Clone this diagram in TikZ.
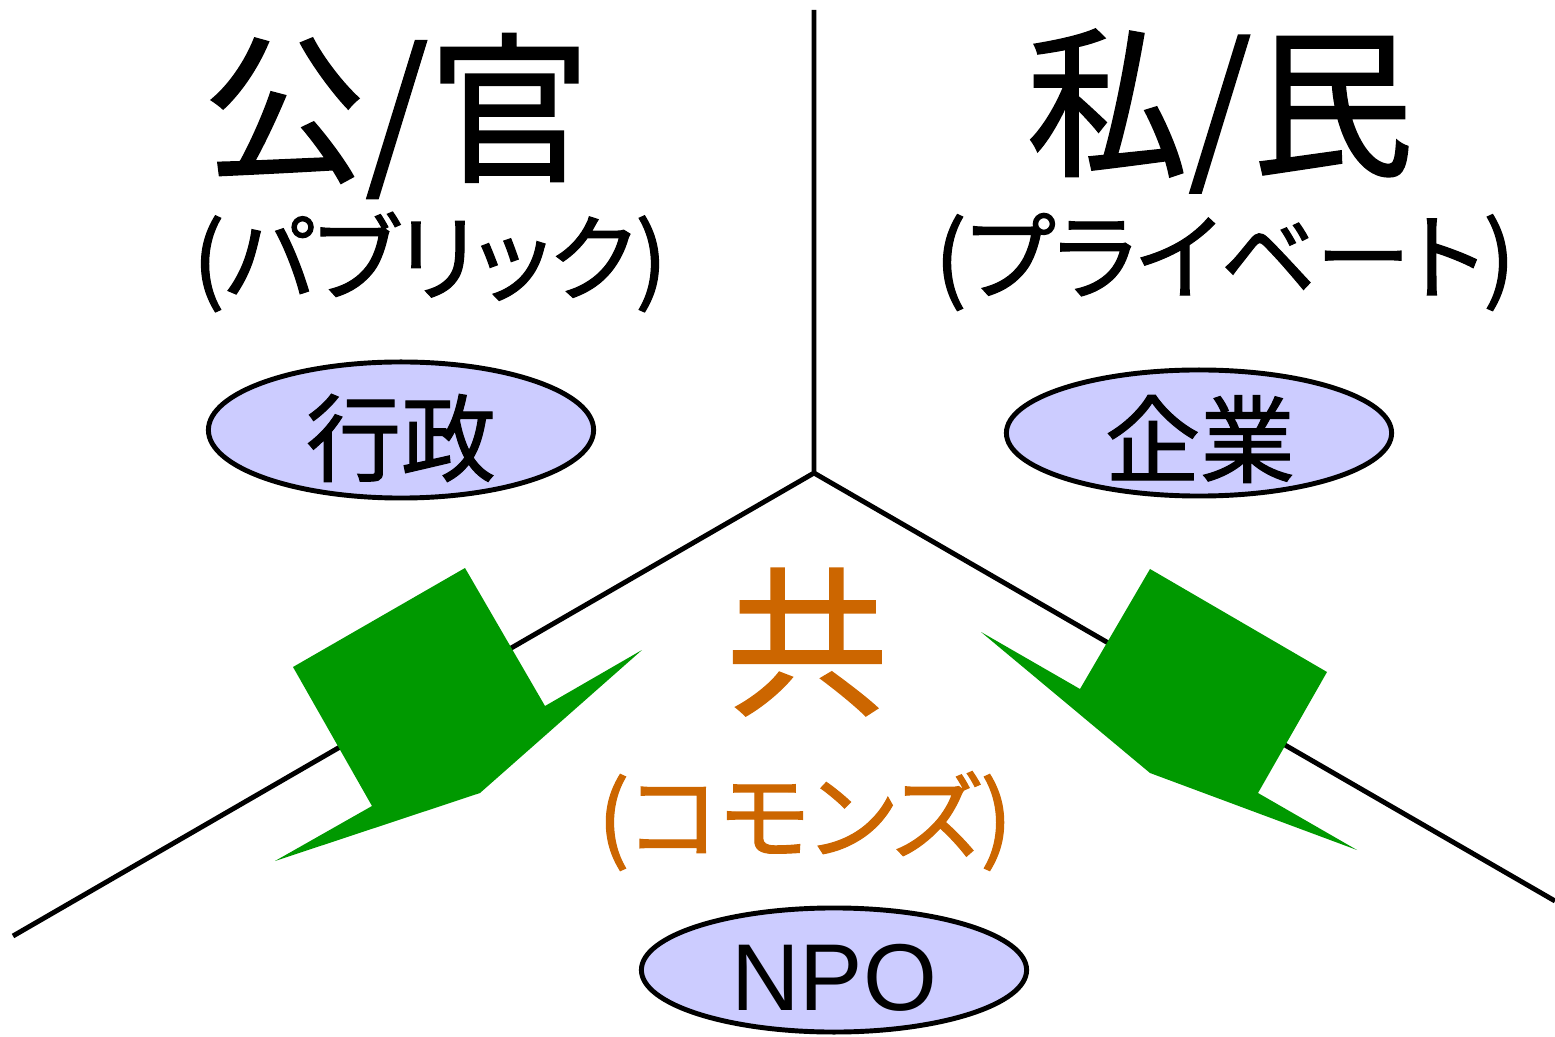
\documentclass[tikz,border=0pt]{standalone}
\usepackage{fontspec}
\setmainfont{Noto Sans CJK JP}[FakeBold=1.2]
\newfontfamily\npofont{Liberation Sans}
\usetikzlibrary{shapes.geometric}
\definecolor{bubblefill}{HTML}{CCCCFF}
\definecolor{wedgegreen}{HTML}{009900}
\definecolor{commons}{HTML}{CC6600}

\begin{document}
\begin{tikzpicture}[x=0.01cm, y=-0.01cm,
    divider/.style={line width=1.4pt},
    sector/.style={inner sep=0pt, font=\fontsize{46}{50}\selectfont},
    reading/.style={inner sep=0pt, font=\fontsize{27}{30}\selectfont\addfontfeatures{RawFeature=+palt}},
    bubble/.style={ellipse, draw, line width=1.4pt, fill=bubblefill, minimum width=3.85cm},
    bubbletext/.style={inner sep=0pt, font=\fontsize{27}{30}\selectfont}]
    \useasboundingbox (0,0) rectangle (1555,1037);
    % Draw dividing lines
    \coordinate (hub) at (814,473);
    \coordinate (top) at (814,10);
    \coordinate (lowleft) at (13,936);
    \coordinate (lowright) at (1555,901);
    \draw[divider] (top) -- (hub) -- (lowleft);
    \draw[divider] (hub) -- (lowright);
    % Draw green arrows
    \fill[wedgegreen] (465,568) -- (545,706) -- (642,650) -- (480,793)
        -- (275,861) -- (372,806) -- (293,667) -- cycle;
    \fill[wedgegreen] (1150,569) -- (1327,672) -- (1258,793) -- (1357,850)
        -- (1150,773) -- (981,632) -- (1080,689) -- cycle;
    % Public side
    \node[sector] (public) at (397,116) {公/官};
    \node[reading] (publicread) at (430,262) {(パブリック)};
    \node[bubble, minimum height=1.36cm] (gov) at (401,430) {};
    \node[bubbletext] (govtext) at (401,438) {行政};
    % Private side
    \node[sector] (private) at (1220,111) {私/民};
    \node[reading] (privateread) at (1225,262) {(プライベート)};
    \node[bubble, minimum height=1.26cm] (firm) at (1199,433) {};
    \node[bubbletext] (firmtext) at (1200,439) {企業};
    % Commons
    \node[sector, text=commons] (common) at (807,642) {共};
    \node[reading, text=commons] (commonread) at (805,821) {(コモンズ)};
    \node[bubble, minimum height=1.24cm] (npo) at (834,970) {};
    \node[inner sep=0pt, font=\npofont\fontsize{27}{30}\selectfont] (npotext) at (834,978) {NPO};
\end{tikzpicture}
\end{document}
